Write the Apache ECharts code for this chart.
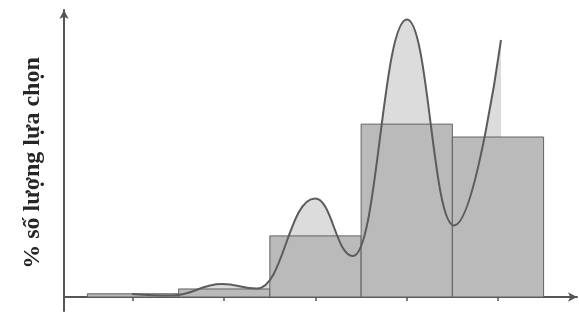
<!DOCTYPE html>
<html>
<head>
<meta charset="utf-8">
<script src="https://cdn.jsdelivr.net/npm/echarts@6/dist/echarts.min.js"></script>
<style>html,body{margin:0;padding:0;background:#fff;}#c{width:579px;height:322px;}</style>
</head>
<body>
<div id="c"></div>
<script>
const yAxisTitle = '% số lượng lựa chọn';
const binCenters = [1, 2, 3, 4, 5];
const barValues = [0.8, 2.0, 15.2, 43.0, 39.8];
const curveX = [0.989, 1.427, 1.975, 2.359, 2.995, 3.411, 4.003, 4.518, 5.033];
const curveY = [0.75, 0.37, 3.23, 2.11, 24.50, 10.20, 69.03, 17.79, 63.93];

const barData = binCenters.map((c, i) => [c, barValues[i]]);
const curveData = curveX.map((x, i) => [x, curveY[i]]);

const chart = echarts.init(document.getElementById('c'), null, {renderer: 'canvas'});
chart.setOption({
  animation: false,
  backgroundColor: '#ffffff',
  grid: {left: 64, right: 2, top: 10, bottom: 11, containLabel: false},
  xAxis: {
    type: 'value', min: 0.2438, max: 5.866,
    axisLine: {show: true, lineStyle: {color: '#555', width: 2}, symbol: ['none', 'arrow'], symbolSize: [7, 9]},
    axisTick: {show: true, length: 4, lineStyle: {color: '#555', width: 1.5}, customValues: binCenters},
    axisLabel: {show: false},
    splitLine: {show: false}
  },
  yAxis: {
    type: 'value', min: -3.48, max: 71.39,
    axisLine: {show: true, onZero: false, lineStyle: {color: '#555', width: 2}, symbol: ['none', 'arrow'], symbolSize: [7, 9]},
    axisTick: {show: false},
    axisLabel: {show: false},
    splitLine: {show: false}
  },
  graphic: [{
    type: 'text', x: 33, y: 163, rotation: Math.PI / 2,
    style: {text: yAxisTitle, font: 'bold 24px "Liberation Serif", "DejaVu Serif", serif', fill: '#262626', align: 'center', verticalAlign: 'middle'}
  }],
  series: [
    {
      type: 'line', data: curveData, smooth: 0.45, smoothMonotone: 'x', showSymbol: false, z: 1,
      lineStyle: {width: 0, opacity: 0},
      areaStyle: {color: '#dcdcdc', opacity: 1}
    },
    {
      type: 'custom', z: 2, data: barData,
      renderItem: function (params, api) {
        const c = api.value(0), v = api.value(1);
        const p0 = api.coord([c - 0.5, v]);
        const p1 = api.coord([c + 0.5, 0]);
        return {type: 'rect', shape: {x: p0[0], y: p0[1], width: p1[0] - p0[0], height: p1[1] - p0[1]},
          style: {fill: '#bababa', stroke: '#626262', lineWidth: 1}};
      }
    },
    {
      type: 'line', data: curveData, smooth: 0.45, smoothMonotone: 'x', showSymbol: false, z: 3,
      lineStyle: {color: '#5c5c5c', width: 2}
    }
  ]
});
</script>
</body>
</html>
